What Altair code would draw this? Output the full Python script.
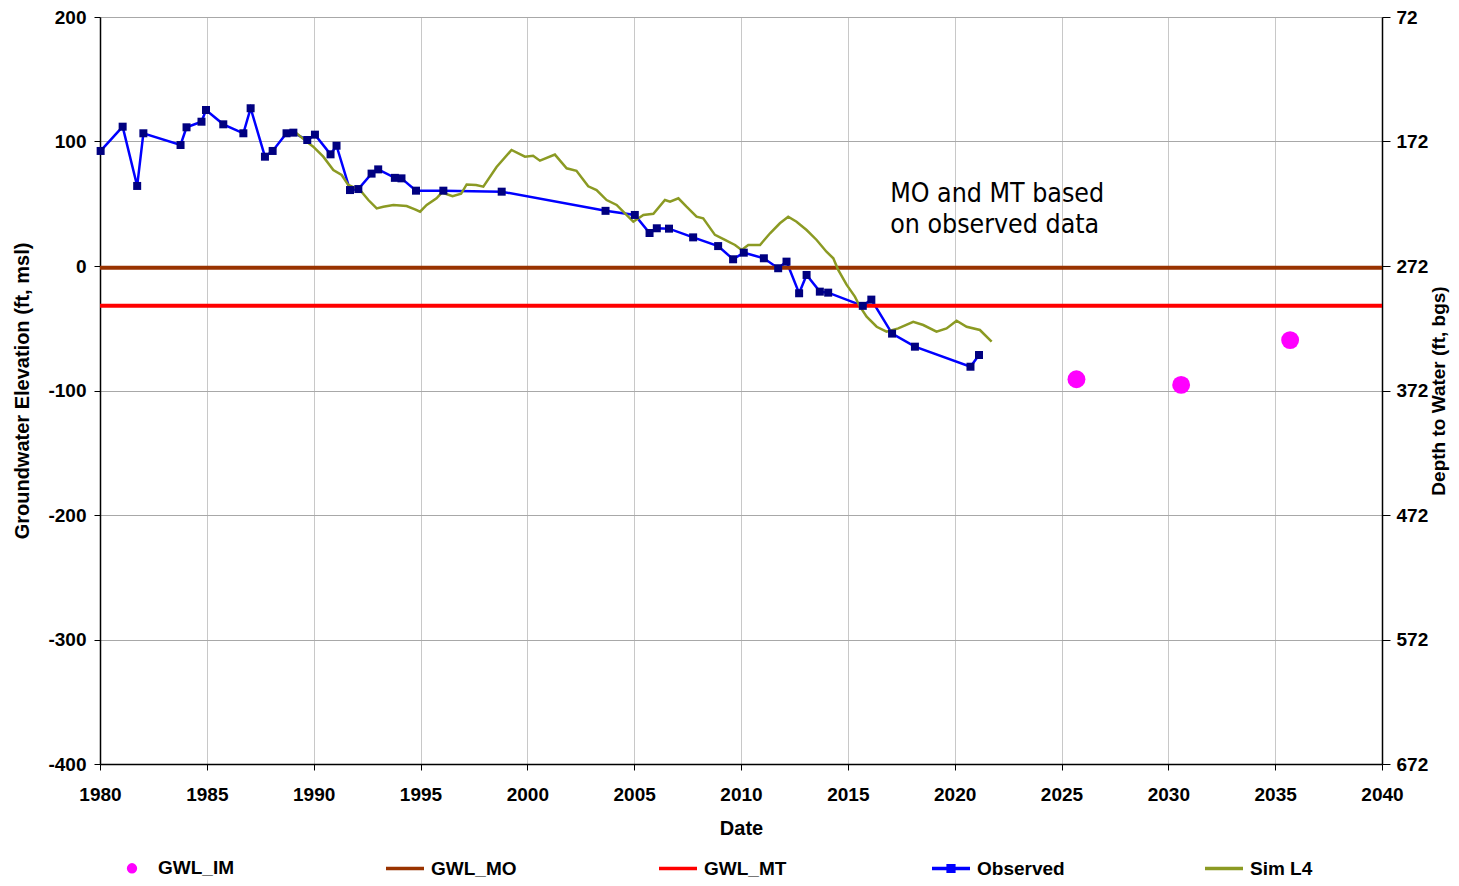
import altair as alt
import pandas as pd

# ---------------- data ----------------
OBS_YEAR = [1980.03, 1981.06, 1981.74, 1982.03, 1983.77, 1984.05, 1984.75, 1984.96,
            1985.77, 1986.71, 1987.05, 1987.72, 1988.08, 1988.73, 1989.05, 1989.7,
            1990.06, 1990.79, 1991.07, 1991.7, 1992.09, 1992.71, 1993.02, 1993.8,
            1994.11, 1994.79, 1996.07, 1998.8, 2003.66, 2005.03, 2005.72, 2006.06,
            2006.63, 2007.76, 2008.93, 2009.63, 2010.13, 2011.07, 2011.74, 2012.13,
            2012.72, 2013.07, 2013.69, 2014.08, 2015.7, 2016.1, 2017.07, 2018.14,
            2020.74, 2021.14]
OBS_ELEV = [92.4, 111.9, 64.3, 106.6, 97.2, 111.4, 115.9, 125.3,
            113.8, 106.6, 126.7, 87.8, 92.4, 106.6, 107.1, 101.2,
            105.5, 89.7, 96.6, 61.0, 61.8, 74.2, 77.6, 70.8,
            70.4, 60.5, 60.5, 59.7, 44.3, 41.0, 26.5, 30.3,
            30.0, 23.0, 16.0, 5.4, 10.7, 6.2, -1.8, 3.5,
            -21.9, -7.2, -20.6, -21.4, -32.0, -27.0, -54.3, -64.8,
            -80.9, -71.5]

SIM_YEAR = [1989.05, 1989.2, 1989.67, 1989.98, 1990.45, 1990.92, 1991.31, 1991.62,
            1992.17, 1992.56, 1992.95, 1993.26, 1993.73, 1994.35, 1994.74, 1994.98,
            1995.29, 1995.75, 1996.0, 1996.5, 1996.9, 1997.16, 1997.6, 1997.94,
            1998.56, 1999.26, 1999.89, 2000.27, 2000.59, 2001.29, 2001.84, 2002.3,
            2002.85, 2003.24, 2003.71, 2004.18, 2004.64, 2004.96, 2005.43, 2005.9,
            2006.44, 2006.68, 2007.07, 2007.45, 2007.92, 2008.23, 2008.78, 2009.25,
            2009.72, 2010.03, 2010.34, 2010.89, 2011.36, 2011.82, 2012.21, 2012.6,
            2013.07, 2013.54, 2014.0, 2014.32, 2014.55, 2014.94, 2015.33, 2015.57,
            2015.88, 2016.35, 2016.81, 2017.36, 2018.06, 2018.53, 2019.15, 2019.62,
            2020.09, 2020.56, 2021.18, 2021.73]
SIM_ELEV = [107.9, 106.6, 99.9, 95.8, 87.8, 77.1, 73.1, 65.1,
            61.0, 53.0, 46.3, 47.6, 49.0, 48.2, 45.5, 43.6,
            49.0, 54.4, 59.0, 56.0, 58.0, 65.5, 65.0, 63.7,
            79.5, 93.2, 87.8, 88.5, 84.6, 89.5, 78.5, 76.5,
            64.0, 61.0, 53.0, 49.0, 41.0, 35.6, 41.0, 42.0,
            53.0, 51.6, 54.4, 47.6, 39.6, 38.3, 25.0, 20.9,
            16.9, 12.9, 16.9, 16.9, 26.3, 34.3, 39.6, 35.6,
            28.9, 20.9, 11.5, 6.2, -3.2, -15.0, -24.6, -32.7,
            -40.7, -48.8, -52.8, -50.1, -44.8, -47.4, -52.8, -50.1,
            -44.0, -48.8, -51.4, -60.8]

IM_YEAR = [2025.7, 2030.6, 2035.7]
IM_ELEV = [-91.0, -95.5, -59.5]

MO_ELEV = -1.5
MT_ELEV = -32.0

SERIES = ["GWL_IM", "GWL_MO", "GWL_MT", "Observed", "Sim L4"]
COLORS = ["#FF00FF", "#993300", "#FF0000", "#0000FF", "#8B9A23"]
MARKER_COLOR = "#000080"
X_TICKS = list(range(1980, 2041, 5))
Y_TICKS = list(range(-400, 201, 100))
DEPTH_OFFSET = 272  # right axis: depth to water = 272 - elevation

NOTE_TEXT = ["MO and MT based", "on observed data"]
NOTE_YEAR = 2016.98
NOTE_ELEV = 51.5

# ---------------- tables ----------------
obs_df = pd.DataFrame({"year": OBS_YEAR, "elev": OBS_ELEV})
sim_df = pd.DataFrame({"year": SIM_YEAR, "elev": SIM_ELEV})
im_df = pd.DataFrame({"year": IM_YEAR, "elev": IM_ELEV})
mo_df = pd.DataFrame({"elev": [MO_ELEV]})
mt_df = pd.DataFrame({"elev": [MT_ELEV]})
note_df = pd.DataFrame({"year": [NOTE_YEAR], "elev": [NOTE_ELEV]})
legend_df = pd.DataFrame({"series": SERIES, "year": [1960] * 5, "elev": [0] * 5})

FONT = "Liberation Sans"
x_scale = alt.Scale(domain=[1980, 2040], nice=False, zero=False)
y_scale = alt.Scale(domain=[-400, 200], nice=False, zero=False)

x_axis = alt.Axis(values=X_TICKS, format="d", title="Date", grid=True,
                  gridColor="#c8c8c8", gridWidth=1, domainColor="black",
                  domainWidth=1.5, tickColor="black", tickSize=6,
                  labelFont=FONT, labelFontSize=19, labelFontWeight="bold",
                  labelColor="black", labelPadding=15, labelFlush=False,
                  titleFont=FONT, titleFontSize=20, titleFontWeight="bold",
                  titleColor="black", titlePadding=14)
y_axis_left = alt.Axis(values=Y_TICKS, labelExpr="'' + datum.value", orient="left",
                       title="Groundwater Elevation (ft, msl)", grid=True,
                       gridColor="#a8a8a8", gridWidth=1, domainColor="black",
                       domainWidth=1.5, tickColor="black", tickSize=6,
                       labelFont=FONT, labelFontSize=19, labelFontWeight="bold",
                       labelColor="black", labelPadding=8,
                       titleFont=FONT, titleFontSize=20, titleFontWeight="bold",
                       titleColor="black", titlePadding=15)
y_axis_right = alt.Axis(values=Y_TICKS, orient="right",
                        labelExpr=f"'' + ({DEPTH_OFFSET} - datum.value)",
                        title="Depth to Water (ft, bgs)", grid=False,
                        domainColor="black", domainWidth=1.5, tickColor="black",
                        tickSize=8, labelFont=FONT, labelFontSize=19,
                        labelFontWeight="bold", labelColor="black", labelPadding=6,
                        titleFont=FONT, titleFontSize=19, titleFontWeight="bold",
                        titleColor="black", titlePadding=2, titleAngle=270,
                        titleBaseline="top")

# the same x definition on every layer, so that the shared axis is kept
X = alt.X("year:Q", scale=x_scale, axis=x_axis)
Y_LEFT = alt.Y("elev:Q", scale=y_scale, axis=y_axis_left)
Y_RIGHT = alt.Y("elev:Q", scale=y_scale, axis=y_axis_right)
Y_NOAX = alt.Y("elev:Q", scale=y_scale, axis=None)

mt_rule = alt.Chart(mt_df).mark_rule(color=COLORS[2], strokeWidth=4).encode(y=Y_NOAX)
mo_rule = alt.Chart(mo_df).mark_rule(color=COLORS[1], strokeWidth=4).encode(y=Y_RIGHT)

sim_line = alt.Chart(sim_df).mark_line(color=COLORS[4], strokeWidth=2.5).encode(
    x=X, y=Y_NOAX)

obs_line = alt.Chart(obs_df).mark_line(color=COLORS[3], strokeWidth=2.5).encode(
    x=X, y=Y_LEFT)
obs_pts = alt.Chart(obs_df).mark_square(color=MARKER_COLOR, size=64, opacity=1).encode(
    x=X, y=Y_NOAX)

im_pts = alt.Chart(im_df).mark_circle(color=COLORS[0], size=320, opacity=1).encode(
    x=X, y=Y_NOAX)

note = alt.Chart(note_df).mark_text(
    text=NOTE_TEXT, align="left", baseline="alphabetic", font="DejaVu Sans Condensed",
    fontSize=26.5, lineHeight=31, color="black").encode(x=X, y=Y_NOAX)

# legend helper (points clipped away, only the legend is visible)
LEG_SHAPES = [
    "M0,-0.18A0.18,0.18,0,1,1,0,0.18A0.18,0.18,0,1,1,0,-0.18Z",
    "M-1,0H1",
    "M-1,0H1",
    "M-1,0H1M-0.15,-0.15H0.15V0.15H-0.15Z",
    "M-1,0H1",
]
LEG_FILLS = [COLORS[0], COLORS[1], COLORS[2], MARKER_COLOR, COLORS[4]]

leg = alt.Legend(title=None, orient="none", legendX=11, legendY=830,
                 direction="horizontal", columns=5, gridAlign="all",
                 columnPadding=133, symbolSize=1444, symbolStrokeWidth=3.5,
                 labelFont=FONT, labelFontSize=19, labelFontWeight="bold",
                 labelColor="black", labelOffset=5, padding=0, symbolOpacity=1)

legend_layer = alt.Chart(legend_df).mark_point(clip=True, opacity=1).encode(
    x=X, y=Y_NOAX,
    fill=alt.Fill("series:N", scale=alt.Scale(domain=SERIES, range=LEG_FILLS), legend=leg),
    stroke=alt.Stroke("series:N", scale=alt.Scale(domain=SERIES, range=COLORS), legend=leg),
    shape=alt.Shape("series:N", scale=alt.Scale(domain=SERIES, range=LEG_SHAPES), legend=leg),
)

chart = alt.layer(
    obs_line, mo_rule, mt_rule, sim_line, obs_pts, im_pts, note, legend_layer
).resolve_axis(y="independent").properties(
    width=1282, height=747,
    autosize=alt.AutoSizeParams(type="none"),
    padding={"left": 92, "top": 9, "right": 69, "bottom": 114},
    background="white",
).configure_view(stroke=None)

chart.save("out.html", embed_options={"renderer": "svg", "actions": False})
